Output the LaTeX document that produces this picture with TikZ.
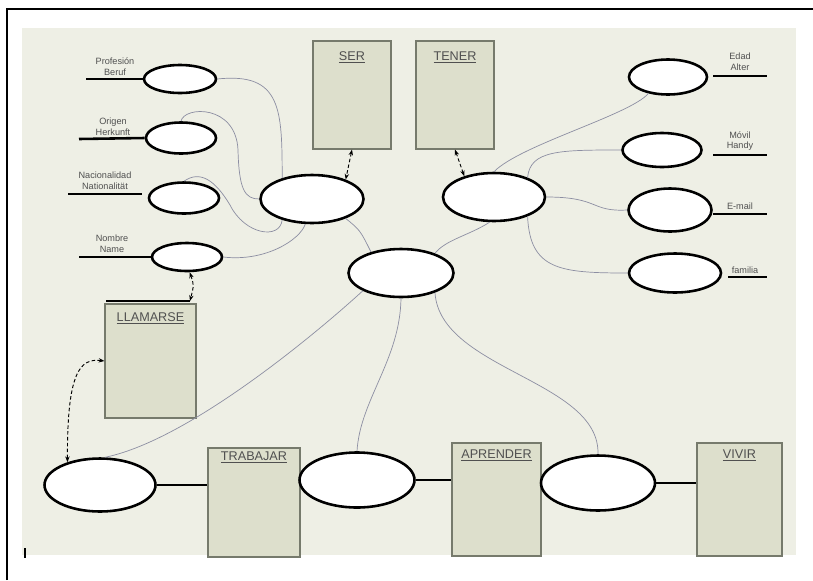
\documentclass[tikz,border=0pt]{standalone}
\usepackage{fontspec}
\setmainfont{Liberation Sans}
\usepackage{tikz}
\usetikzlibrary{shapes.geometric,arrows.meta,backgrounds}
\newcommand{\pxu}{0.03cm}
\newcommand{\thickness}{2.2pt}
\newcommand{\wirewidth}{0.6pt}
\definecolor{wirecolor}{RGB}{140,142,162}
\definecolor{paper}{RGB}{238,239,229}
\definecolor{verbfill}{RGB}{221,223,204}
\definecolor{verbedge}{RGB}{118,122,108}
\definecolor{inkgray}{RGB}{80,80,80}

\tikzset{
  slot/.style={ellipse, draw, fill=white, line width=\thickness, inner sep=0pt},
  verbbox/.style={rectangle, draw=verbedge, fill=verbfill, line width=0.9pt, inner sep=0pt},
  verbname/.style={text=inkgray, font=\fontsize{10.8}{12}\selectfont, inner sep=0pt},
  hint/.style={text=inkgray, font=\fontsize{7.8}{9.2}\selectfont, align=center, inner sep=0pt},
  blankline/.style={line width=\thickness},
  wire/.style={wirecolor, line width=\wirewidth},
  link/.style={dash pattern=on 3pt off 2pt, line width=0.8pt, {Stealth[length=5pt]}-{Stealth[length=5pt]}},
}

\begin{document}
\begin{tikzpicture}[x=\pxu, y=-\pxu]
\useasboundingbox (0,0) rectangle (813,580);
\fill[white] (0,0) rectangle (813,580);
\fill[paper] (22,28) rectangle (796,555);
\draw[line width=1.6pt] (7,580) -- (7,9) -- (813,9);
\draw[line width=1pt] (25,548) -- (25,558);

% verb boxes
\node[verbbox, minimum width=78*\pxu, minimum height=108*\pxu] (ser) at (352,95) {};
\node[verbbox, minimum width=78*\pxu, minimum height=108*\pxu] (tener) at (455,95) {};
\node[verbbox, minimum width=91*\pxu, minimum height=114*\pxu] (llamarse) at (150.5,361) {};
\node[verbbox, minimum width=92*\pxu, minimum height=109*\pxu] (trabajar) at (254,502.5) {};
\node[verbbox, minimum width=89*\pxu, minimum height=113*\pxu] (aprender) at (496.5,499.5) {};
\node[verbbox, minimum width=85*\pxu, minimum height=113*\pxu] (vivir) at (739.5,499.5) {};
\node[verbname] (serlbl) at (352,57) {\underline{SER}};
\node[verbname] (tenerlbl) at (455,57) {\underline{TENER}};
\node[verbname] (llamarselbl) at (150.5,318) {\underline{LLAMARSE}};
\node[verbname] (trabajarlbl) at (254,457) {\underline{TRABAJAR}};
\node[verbname] (aprenderlbl) at (496.5,455) {\underline{APRENDER}};
\node[verbname] (vivirlbl) at (739.5,455) {\underline{VIVIR}};

% ellipses
\node[slot, minimum width=72*\pxu, minimum height=28*\pxu] (prof) at (180,79) {};
\node[slot, minimum width=70*\pxu, minimum height=31*\pxu] (orig) at (181,138) {};
\node[slot, minimum width=70*\pxu, minimum height=31*\pxu] (nac) at (184,198) {};
\node[slot, minimum width=70*\pxu, minimum height=28*\pxu] (nom) at (187,257) {};
\node[slot, minimum width=103*\pxu, minimum height=48*\pxu] (eser) at (312,199) {};
\node[slot, minimum width=102*\pxu, minimum height=48*\pxu] (etener) at (494,197) {};
\node[slot, minimum width=105*\pxu, minimum height=48*\pxu] (ctr) at (401,273) {};
\node[slot, minimum width=78*\pxu, minimum height=35*\pxu] (edad) at (668,77) {};
\node[slot, minimum width=79*\pxu, minimum height=34*\pxu] (movil) at (662,150) {};
\node[slot, minimum width=83*\pxu, minimum height=43*\pxu] (email) at (670,210) {};
\node[slot, minimum width=92*\pxu, minimum height=39*\pxu] (familia) at (675,273) {};
\node[slot, minimum width=111*\pxu, minimum height=53*\pxu] (b1) at (100,485) {};
\node[slot, minimum width=115*\pxu, minimum height=55*\pxu] (b2) at (357,480) {};
\node[slot, minimum width=114*\pxu, minimum height=55*\pxu] (b3) at (598,483) {};

% labels and blanks
\node[hint] (proflbl) at (115,67) {Profesión\\Beruf};
\node[hint] (origlbl) at (113,127) {Origen\\Herkunft};
\node[hint] (naclbl) at (105,181) {Nacionalidad\\Nationalität};
\node[hint] (nomlbl) at (112,244) {Nombre\\Name};
\node[hint] (edadlbl) at (740,62) {Edad\\Alter};
\node[hint] (movillbl) at (740,141) {Móvil\\Handy};
\node[hint] (emaillbl) at (740,206) {E-mail};
\node[hint] (familialbl) at (745,270) {familia};
\draw[blankline] (86,79) -- (prof.west);
\draw[blankline] (79,139) -- (orig.west);
\draw[blankline] (68,194) -- (142,194);
\draw[blankline] (79,257) -- (nom.west);
\draw[blankline] (713,76) -- (767,76);
\draw[blankline] (713,155) -- (767,155);
\draw[blankline] (email.east |- 0,214) -- (767,214);
\draw[blankline] (728,277) -- (767,277);
\coordinate (llbar) at (190,301);
\draw[blankline] (106,301) -- (llbar);
\draw[blankline] (b1.east) -- (b1.east -| trabajar.west);
\draw[blankline] (b2.east) -- (b2.east -| aprender.west);
\draw[blankline] (b3.east) -- (b3.east -| vivir.west);

% dashed links
\draw[link] (ser.south) -- (eser.30);
\draw[link] (tener.south) -- (etener.145);
\draw[link] (nom.-80) .. controls (194,285) .. (llbar);
\draw[link] (llamarse.west) .. controls (80,358) and (67,372) .. (b1.145);

% thin wires
\draw[wire] (prof.east) .. controls (282,72) and (282,110) .. (eser.145);
\draw[wire] (orig.north) .. controls (184,106) and (236,104) .. (238,150) .. controls (239,190) and (245,199) .. (eser.west);
\draw[wire] (nac.north) .. controls (200,170) and (215,180) .. (230,205) .. controls (245,235) and (280,240) .. (eser.215);
\draw[wire] (nom.east) .. controls (265,262) and (300,240) .. (eser.255);
\draw[wire] (eser.330) .. controls (360,230) .. (ctr.145);
\draw[wire] (etener.260) .. controls (470,235) and (445,240) .. (ctr.30);
\draw[wire] (ctr.205) .. controls (320,330) and (190,440) .. (b1.80);
\draw[wire] (ctr.south) .. controls (400,360) and (360,400) .. (b2.north);
\draw[wire] (ctr.330) .. controls (440,370) and (600,380) .. (b3.north);
\draw[wire] (etener.north) .. controls (520,145) and (630,115) .. (edad.220);
\draw[wire] (etener.30) .. controls (530,150) and (560,150) .. (movil.west);
\draw[wire] (etener.east) .. controls (600,197) and (590,212) .. (email.west);
\draw[wire] (etener.330) .. controls (530,270) and (560,273) .. (familia.west);
\end{tikzpicture}
\end{document}
